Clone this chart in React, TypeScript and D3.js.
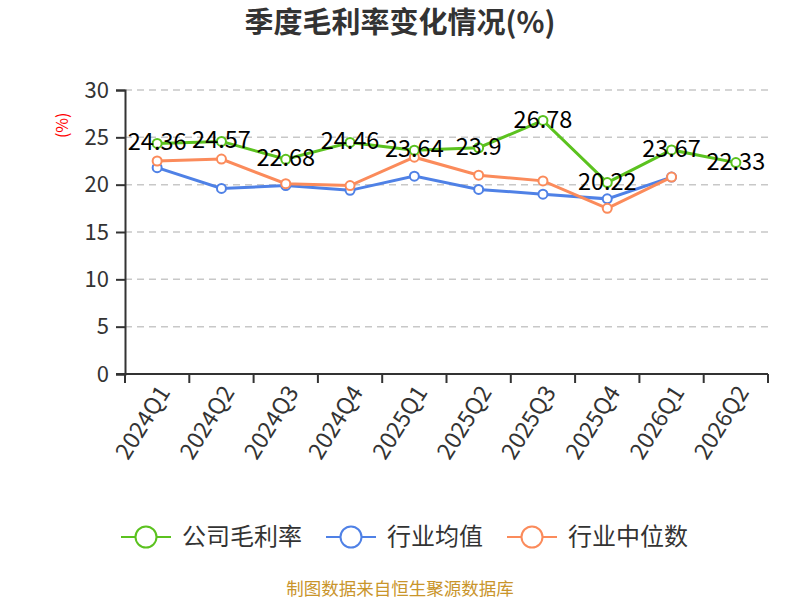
import React, { useEffect, useRef } from "react";
import * as d3 from "d3";

const quarters = ["2024Q1", "2024Q2", "2024Q3", "2024Q4", "2025Q1", "2025Q2", "2025Q3", "2025Q4", "2026Q1", "2026Q2"];
const companyMargin = [24.36, 24.57, 22.68, 24.46, 23.64, 23.9, 26.78, 20.22, 23.67, 22.33];
const industryAvg = [21.8, 19.6, 19.9, 19.4, 20.9, 19.5, 19.0, 18.5, 20.8, null];
const industryMedian = [22.5, 22.7, 20.1, 19.9, 22.9, 21.0, 20.4, 17.5, 20.8, null];
const yTicks = [0, 5, 10, 15, 20, 25, 30];

const seriesNames = ["公司毛利率", "行业均值", "行业中位数"];
const colors = ["#5bc21f", "#4f81e6", "#fb8b5b"];

const W = 800;
const H = 600;

const App: React.FC = () => {
  const ref = useRef<SVGSVGElement | null>(null);

  useEffect(() => {
    if (!ref.current) return;
    const svg = d3.select(ref.current);
    svg.selectAll("*").remove();

    const margin = { top: 90, right: 32, bottom: 226, left: 125 };
    const innerW = W - margin.left - margin.right;
    const innerH = H - margin.top - margin.bottom;
    const font = "'Microsoft YaHei', 'Noto Sans CJK SC', 'Noto Sans', sans-serif";

    const x = d3.scaleBand<string>().domain(quarters).range([0, innerW]);
    const y = d3.scaleLinear().domain([0, 30]).range([innerH, 0]);

    // title
    svg
      .append("text")
      .attr("x", W / 2)
      .attr("y", 33)
      .attr("text-anchor", "middle")
      .style("font-family", font)
      .style("font-size", "29px")
      .style("font-weight", "bold")
      .attr("fill", "#333")
      .text("季度毛利率变化情况(%)");

    const g = svg.append("g").attr("transform", `translate(${margin.left},${margin.top})`);

    // grid
    g.selectAll("line.grid")
      .data(yTicks.filter((t) => t > 0))
      .enter()
      .append("line")
      .attr("x1", 0)
      .attr("x2", innerW)
      .attr("y1", (d) => y(d))
      .attr("y2", (d) => y(d))
      .attr("stroke", "#c8c8c8")
      .attr("stroke-width", 1.5)
      .attr("stroke-dasharray", "7,5");

    // y axis
    const yAxis = g
      .append("g")
      .call(d3.axisLeft(y).tickValues(yTicks).tickSize(9).tickPadding(7));
    yAxis.select(".domain").attr("stroke", "#333").attr("stroke-width", 2);
    yAxis.selectAll(".tick line").attr("stroke", "#333").attr("stroke-width", 2);
    yAxis
      .selectAll("text")
      .style("font-family", font)
      .style("font-size", "22px")
      .attr("fill", "#333");

    // y label
    svg
      .append("text")
      .attr("transform", `translate(68,${y(25) + margin.top - 12}) rotate(-90)`)
      .attr("text-anchor", "middle")
      .style("font-family", font)
      .style("font-size", "16px")
      .attr("fill", "#ff0000")
      .text("(%)");

    // x axis
    const xTickPos = d3.range(quarters.length + 1).map((i) => i * x.bandwidth());
    const xAxisG = g.append("g").attr("transform", `translate(0,${innerH})`);
    xAxisG
      .append("line")
      .attr("x1", -9)
      .attr("x2", innerW)
      .attr("stroke", "#333")
      .attr("stroke-width", 2);
    xAxisG
      .selectAll("line.tick")
      .data(xTickPos)
      .enter()
      .append("line")
      .attr("x1", (d) => d)
      .attr("x2", (d) => d)
      .attr("y1", 0)
      .attr("y2", 9)
      .attr("stroke", "#333")
      .attr("stroke-width", 2);
    xAxisG
      .selectAll("text")
      .data(quarters)
      .enter()
      .append("text")
      .attr("transform", (d) => `translate(${(x(d) ?? 0) + x.bandwidth() / 2 + 7},${14}) rotate(-58)`)
      .attr("text-anchor", "end")
      .attr("dy", "0.35em")
      .style("font-family", font)
      .style("font-size", "23px")
      .attr("fill", "#333")
      .text((d) => d);

    const cx = (i: number) => (x(quarters[i]) ?? 0) + x.bandwidth() / 2;
    const allSeries = [companyMargin, industryAvg, industryMedian];

    const line = d3
      .line<number | null>()
      .defined((d) => d != null)
      .x((_, i) => cx(i))
      .y((d) => y(d as number));

    // draw average, median, then company on top
    [1, 2, 0].forEach((si) => {
      const data = allSeries[si];
      g.append("path")
        .datum(data)
        .attr("fill", "none")
        .attr("stroke", colors[si])
        .attr("stroke-width", 3)
        .attr("d", line);
      g.selectAll(`circle.s${si}`)
        .data(data.map((v, i) => ({ v, i })).filter((d) => d.v != null))
        .enter()
        .append("circle")
        .attr("cx", (d) => cx(d.i))
        .attr("cy", (d) => y(d.v as number))
        .attr("r", 4.5)
        .attr("fill", "#fff")
        .attr("stroke", colors[si])
        .attr("stroke-width", 2);
    });

    // company labels
    g.selectAll("text.lbl")
      .data(companyMargin)
      .enter()
      .append("text")
      .attr("x", (_, i) => cx(i))
      .attr("y", (d) => y(d))
      .attr("dy", "0.3em")
      .attr("text-anchor", "middle")
      .style("font-family", font)
      .style("font-size", "23.5px")
      .attr("fill", "#000")
      .text((d) => String(d));

    // legend
    const legendX = [121, 326, 507];
    const legendY = 537;
    seriesNames.forEach((name, i) => {
      const lg = svg.append("g").attr("transform", `translate(${legendX[i]},${legendY})`);
      lg.append("line")
        .attr("x1", 0)
        .attr("x2", 50)
        .attr("stroke", colors[i])
        .attr("stroke-width", 2);
      lg.append("circle")
        .attr("cx", 25)
        .attr("r", 10.5)
        .attr("fill", "#fff")
        .attr("stroke", colors[i])
        .attr("stroke-width", 2);
      lg.append("text")
        .attr("x", 61)
        .attr("dy", "0.35em")
        .style("font-family", font)
        .style("font-size", "24px")
        .attr("fill", "#333")
        .text(name);
    });

    // footer
    svg
      .append("text")
      .attr("x", W / 2)
      .attr("y", 595)
      .attr("text-anchor", "middle")
      .style("font-family", font)
      .style("font-size", "17.5px")
      .attr("fill", "#c9952b")
      .text("制图数据来自恒生聚源数据库");
  }, []);

  return (
    <svg
      ref={ref}
      width={W}
      height={H}
      style={{ position: "absolute", left: 0, top: 0, background: "#fff" }}
    ></svg>
  );
};

export default App;
